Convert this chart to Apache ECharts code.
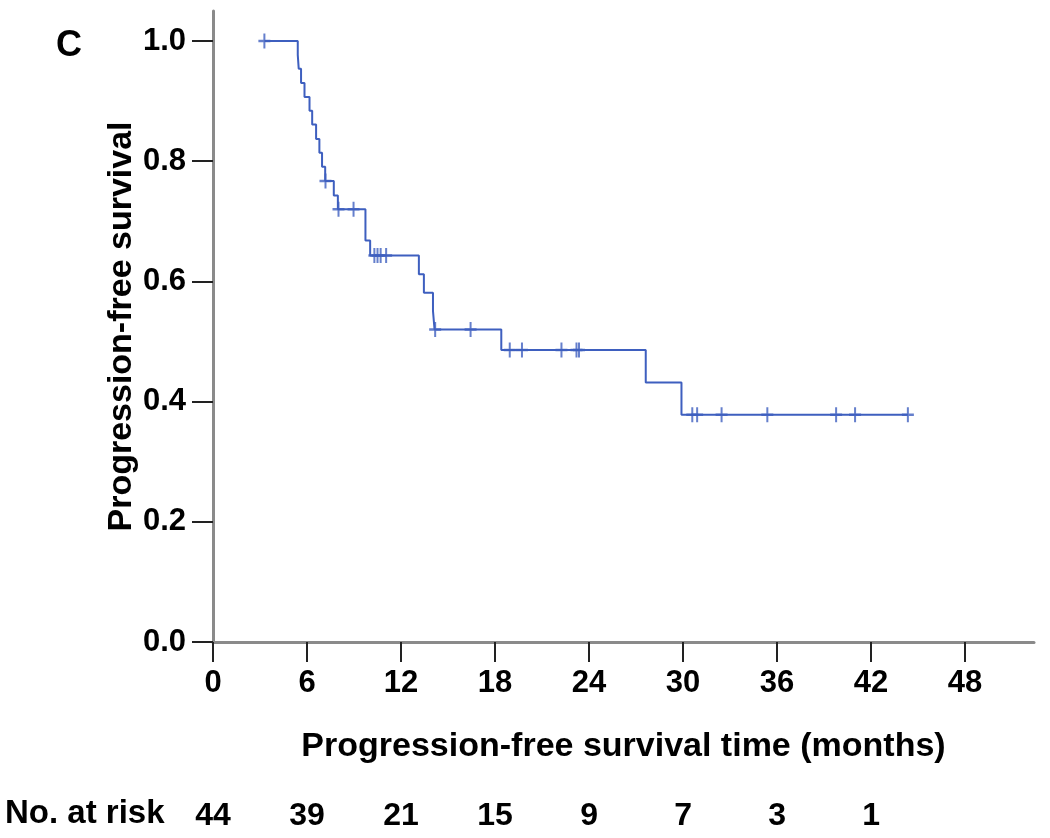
<!DOCTYPE html>
<html>
<head>
<meta charset="utf-8">
<script src="https://cdn.jsdelivr.net/npm/echarts@6/dist/echarts.min.js"></script>
<style>
html,body{margin:0;padding:0;background:#fff;}
#chart{width:1050px;height:838px;}
</style>
</head>
<body>
<div id="chart"></div>
<script>
// Kaplan-Meier step points [months, survival]
var stepPoints = [
  [3.28, 1.000],
  [5.41, 0.977],
  [5.47, 0.954],
  [5.62, 0.930],
  [5.84, 0.907],
  [6.16, 0.884],
  [6.33, 0.861],
  [6.58, 0.837],
  [6.79, 0.814],
  [6.96, 0.791],
  [7.16, 0.767],
  [7.71, 0.743],
  [7.97, 0.720],
  [9.73, 0.668],
  [10.03, 0.643],
  [13.14, 0.612],
  [13.46, 0.581],
  [14.04, 0.551],
  [14.14, 0.520],
  [18.40, 0.486],
  [27.62, 0.432],
  [29.90, 0.378],
  [44.35, 0.378]
];
// censored observations [months, survival]
var censorPoints = [
  [3.28, 1.000],
  [7.18, 0.767],
  [8.01, 0.720], [8.97, 0.720],
  [10.30, 0.643], [10.50, 0.643], [10.70, 0.643], [11.05, 0.643],
  [14.18, 0.520], [16.44, 0.520],
  [18.94, 0.486], [19.72, 0.486], [22.24, 0.486], [23.20, 0.486], [23.36, 0.486],
  [30.59, 0.378], [30.90, 0.378], [32.46, 0.378], [35.38, 0.378],
  [39.77, 0.378], [40.98, 0.378], [44.35, 0.378]
];
var xTicks = [0, 6, 12, 18, 24, 30, 36, 42, 48];
var yTicks = [0, 0.2, 0.4, 0.6, 0.8, 1.0];
var riskTimes = [0, 6, 12, 18, 24, 30, 36, 42];
var riskCounts = [44, 39, 21, 15, 9, 7, 3, 1];

var FONT = '"Liberation Sans", Arial, Helvetica, sans-serif';
var LINE = '#3e5fbf';
var plus = 'path://M5,0 h2 v5 h5 v2 h-5 v5 h-2 v-5 h-5 v-2 h5 Z';

var chart = echarts.init(document.getElementById('chart'));
chart.setOption({
  backgroundColor: '#ffffff',
  animation: false,
  grid: { left: 213, right: 16, top: 11, bottom: 196, containLabel: false },
  graphic: [
    { type: 'text', left: 56, top: 28,
      style: { text: 'C', font: 'bold 36px ' + FONT, fill: '#000' } },
    { type: 'text', left: 5, top: 797,
      style: { text: 'No. at risk', font: 'bold 33px ' + FONT, fill: '#000' } }
  ],
  xAxis: [{
    type: 'value', min: 0, max: 52.4,
    name: 'Progression-free survival time (months)',
    nameLocation: 'middle', nameGap: 88,
    nameTextStyle: { fontFamily: FONT, fontWeight: 'bold', fontSize: 34, color: '#000' },
    axisLine: { show: true, lineStyle: { color: '#8a8a8a', width: 3 } },
    axisTick: { show: true, length: 20, customValues: xTicks, lineStyle: { color: '#222', width: 2 } },
    axisLabel: { customValues: xTicks, margin: 26, fontFamily: FONT, fontWeight: 'bold', fontSize: 31, color: '#000' },
    splitLine: { show: false }
  }, {
    type: 'value', min: 0, max: 52.4, position: 'bottom', offset: 150,
    axisLine: { show: false }, axisTick: { show: false }, splitLine: { show: false },
    axisLabel: {
      customValues: riskTimes, margin: 8,
      fontFamily: FONT, fontWeight: 'bold', fontSize: 32, color: '#000',
      formatter: function (v) {
        var i = riskTimes.indexOf(v);
        return i >= 0 ? String(riskCounts[i]) : '';
      }
    }
  }],
  yAxis: {
    type: 'value', min: 0, max: 1.05,
    name: 'Progression-free survival',
    nameLocation: 'middle', nameGap: 74, nameMoveOverlap: false,
    nameTextStyle: { fontFamily: FONT, fontWeight: 'bold', fontSize: 34, color: '#000' },
    axisLine: { show: true, lineStyle: { color: '#8a8a8a', width: 3 } },
    axisTick: { show: true, length: 21, customValues: yTicks, lineStyle: { color: '#222', width: 2 } },
    axisLabel: { customValues: yTicks, margin: 27, fontFamily: FONT, fontWeight: 'bold', fontSize: 31, color: '#000',
      formatter: function (v) { return v.toFixed(1); } },
    splitLine: { show: false }
  },
  series: [{
    type: 'line', step: 'end', data: stepPoints, xAxisIndex: 0,
    showSymbol: false, symbol: 'none',
    lineStyle: { color: LINE, width: 2 }
  }, {
    type: 'scatter', data: censorPoints, xAxisIndex: 0,
    symbol: plus, symbolSize: [12, 15],
    itemStyle: { color: LINE }
  }]
});
</script>
</body>
</html>
